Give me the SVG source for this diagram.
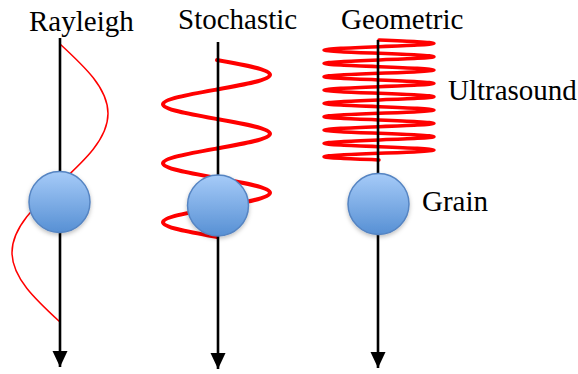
<svg xmlns="http://www.w3.org/2000/svg" width="578" height="374" viewBox="0 0 578 374">
  <defs>
    <linearGradient id="grainFill" x1="0" y1="0" x2="0" y2="1">
      <stop offset="0" stop-color="#a6cbf8"/>
      <stop offset="1" stop-color="#5790d4"/>
    </linearGradient>
    <filter id="shadow" x="-30%" y="-30%" width="160%" height="170%">
      <feDropShadow dx="0" dy="2" stdDeviation="2" flood-color="#000" flood-opacity="0.25"/>
    </filter>
    <marker id="arrow" markerUnits="userSpaceOnUse" markerWidth="17" markerHeight="17" refX="16" refY="7.5" orient="auto">
      <path d="M0,0 L16,7.5 L0,15 Z" fill="#000"/>
    </marker>
    <style>
      .label { font-size: 29px; fill: #000; }
      .axis { stroke: #000; stroke-width: 2.6; fill: none; }
      .wave { stroke: #ff0000; fill: none; stroke-linecap: round; stroke-linejoin: round; }
      .grain { fill: url(#grainFill); stroke: #5584c2; stroke-width: 1.5; filter: url(#shadow); }
    </style>
  </defs>
  <rect width="578" height="374" fill="#fff"/>

  <!-- titles -->
  <g font-family="'Liberation Serif', 'DejaVu Serif', serif">
    <text class="label" x="29" y="30.5">Rayleigh</text>
    <text class="label" x="178" y="29">Stochastic</text>
    <text class="label" x="341" y="29">Geometric</text>
    <text class="label" x="448" y="100">Ultrasound</text>
    <text class="label" x="422" y="211">Grain</text>
  </g>

  <!-- waves -->
  <g id="waves">
    <path class="wave" stroke-width="1.5" d="M60,44 C84.6,66.66 108,88.35 108,113.5 S84.6,160.34 60,183 S12,227.35 12,252.5 S35.4,299.34 60,322"/>
    <path class="wave" stroke-width="4" d="M217,60 C244.15,64.81 270,69.41 270,74.75 S244.15,84.69 217,89.5 S163,98.91 163,104.25 S189.85,114.19 217,119 S270,128.41 270,133.75 S244.15,143.69 217,148.5 S163,157.91 163,163.25 S189.85,173.19 217,178 S270,187.41 270,192.75 S244.15,202.69 217,207.5 S163,216.91 163,222.25 S189.85,232.19 217,237"/>
    <path class="wave" stroke-width="3.5" d="M379,40 C407.18,41.09 434,42.13 434,43.33 S407.18,45.58 379,46.67 S324,48.79 324,50 S350.82,52.25 379,53.33 S434,55.46 434,56.67 S407.18,58.91 379,60 S324,62.13 324,63.33 S350.82,65.58 379,66.67 S434,68.79 434,70 S407.18,72.25 379,73.33 S324,75.46 324,76.67 S350.82,78.91 379,80 S434,82.13 434,83.33 S407.18,85.58 379,86.67 S324,88.79 324,90 S350.82,92.25 379,93.33 S434,95.46 434,96.67 S407.18,98.91 379,100 S324,102.13 324,103.33 S350.82,105.58 379,106.67 S434,108.79 434,110 S407.18,112.25 379,113.33 S324,115.46 324,116.67 S350.82,118.91 379,120 S434,122.13 434,123.33 S407.18,125.58 379,126.67 S324,128.79 324,130 S350.82,132.25 379,133.33 S434,135.46 434,136.67 S407.18,138.91 379,140 S324,142.13 324,143.33 S350.82,145.58 379,146.67 S434,148.79 434,150 S407.18,152.25 379,153.33 S324,155.46 324,156.67 S350.82,158.91 379,160"/>
  </g>

  <!-- connectors: propagation axes -->
  <g id="connectors">
    <line class="axis" x1="60" y1="38" x2="60" y2="367" marker-end="url(#arrow)"/>
    <line class="axis" x1="218" y1="42" x2="218" y2="369" marker-end="url(#arrow)"/>
    <line class="axis" x1="378" y1="40" x2="378" y2="368" marker-end="url(#arrow)"/>
  </g>

  <!-- grains -->
  <g id="grain-rayleigh"><circle class="grain" cx="59.5" cy="202" r="30.5"/></g>
  <g id="grain-stochastic"><circle class="grain" cx="218" cy="205.5" r="30.5"/></g>
  <g id="grain-geometric"><circle class="grain" cx="378.5" cy="204" r="30.5"/></g>
</svg>
